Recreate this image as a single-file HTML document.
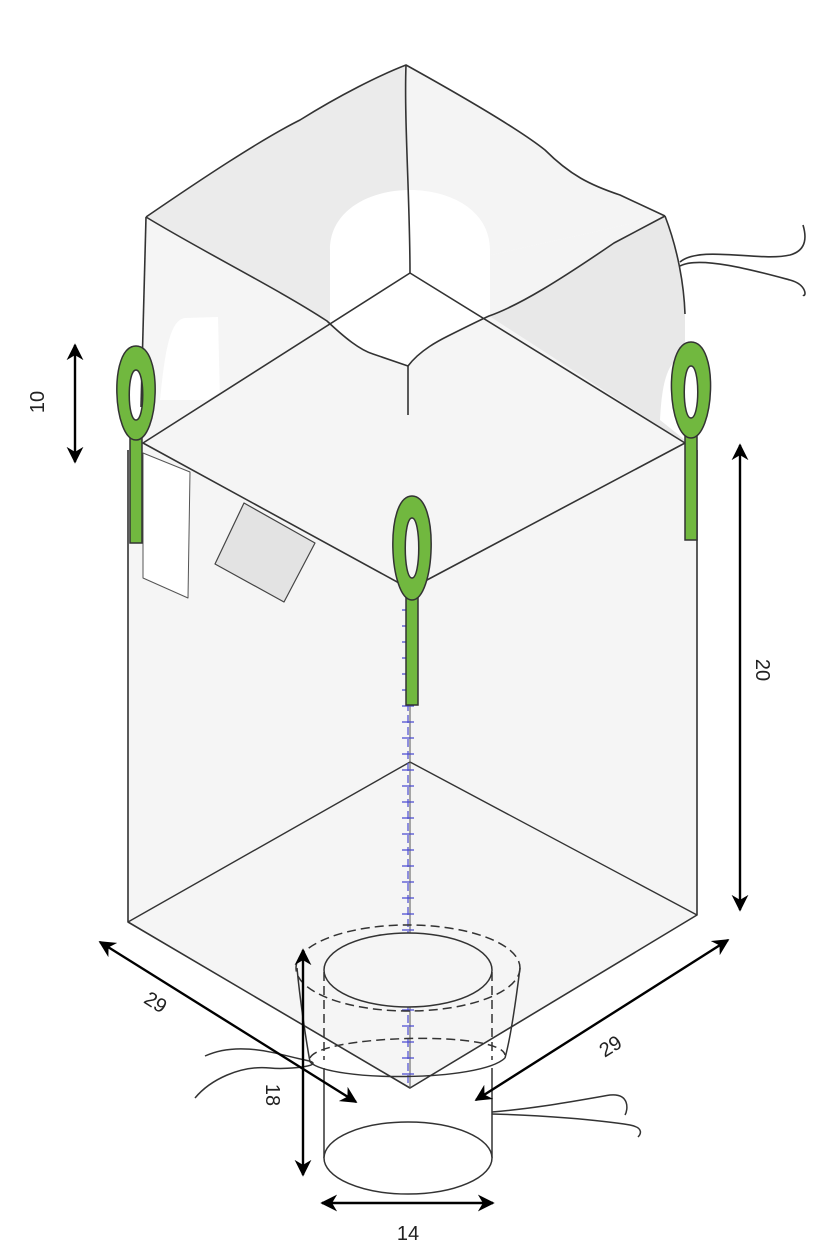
<!DOCTYPE html>
<html><head><meta charset="utf-8"><style>
html,body{margin:0;padding:0;background:#fff}
svg{display:block}
text{font-family:"Liberation Sans",sans-serif;font-size:20px;fill:#222}
</style></head><body>
<svg width="822" height="1253" viewBox="0 0 822 1253" xmlns="http://www.w3.org/2000/svg">
<defs>
<marker id="ah" viewBox="0 0 10 10" refX="9" refY="5" markerWidth="7" markerHeight="7" orient="auto-start-reverse">
<path d="M0,0 L10,5 L0,10 L3,5 z" fill="#000"/></marker>
</defs>
<g stroke="#333" stroke-width="1.6" fill="none" stroke-linejoin="round">
<path d="M146,217 C200,180 260,140 300,120 C340,95 380,75 406,65 L408,160 L410,273 L327,321 C280,290 200,250 146,217 Z" fill="#ebebeb" stroke="none"/>
<path d="M406,65 C460,95 520,130 545,150 C570,175 590,185 620,195 L665,216 L410,273 L408,160 Z" fill="#f4f4f4" stroke="none"/>
<path d="M410,273 L665,216 L614,243 C560,280 520,305 489,316 Z" fill="#f4f4f4" stroke="none"/>
<path d="M665,216 C678,250 684,285 685,314 L685,443 L489,316 C530,300 570,270 614,243 Z" fill="#e8e8e8" stroke="none"/>
<path d="M146,217 L141,407 L143,443 L327,321 C280,290 200,250 146,217 Z" fill="#f5f5f5" stroke="none"/>
<path d="M327,321 L410,273 L489,316 C470,325 440,340 408,366 L373,354 C360,350 345,338 327,321 Z" fill="#ebebeb" stroke="none"/>
<path d="M330,325 L330,250 C330,170 490,170 490,250 L490,318 C470,325 440,340 408,366 L373,354 C360,350 345,338 330,325 Z" fill="#fff" stroke="none"/>
<path d="M160,400 C165,350 170,320 185,318 L218,317 L220,400 Z" fill="#fff" stroke="none"/>
<path d="M660,420 C662,380 668,360 685,355 L685,440 Z" fill="#fff" stroke="none"/>
<path d="M143,443 L128,450 L128,922 L410,1088 L697,915 L697,450 L685,443 L410,589 Z" fill="#f5f5f5" stroke="none"/>
<path d="M128,450 L128,922 L410,1088 L697,915 L697,450"/>
<path d="M143,443 L327,321 C345,338 360,350 373,354 L408,366 C420,350 440,340 448,336 C470,325 480,320 489,316 L685,443 L410,589 Z" fill="#f5f5f5" stroke="none"/>
<path d="M143,443 L410,273 L685,443 L410,589 Z"/>
<path d="M128,922 L410,762 L697,915" stroke-width="1.4"/>
<path d="M410,589 L410,1088" stroke="#555" stroke-width="1"/>
<path d="M146,217 C200,180 260,140 300,120 C340,95 380,75 406,65 C460,95 520,130 545,150 C570,175 590,185 620,195 L665,216"/>
<path d="M406,65 C404,120 410,200 410,273"/>
<path d="M146,217 C200,250 280,290 327,321 C345,338 360,350 373,354 L408,366 C420,350 440,340 448,336 C470,325 480,320 489,316 C520,305 560,280 614,243 L665,216"/>
<path d="M408,366 L408,415"/>
<path d="M146,217 L141,407"/>
<path d="M665,216 C678,250 684,285 685,314"/>
<path d="M680,262 C700,245 760,262 790,255 C808,250 806,235 803,225"/>
<path d="M680,266 C700,255 760,272 790,280 C808,285 806,298 803,295"/>
<path d="M143,453 L190,472 L188,598 L143,578 Z" fill="#fff" stroke="#555" stroke-width="1"/>
<path d="M244,503 L315,543 L284,602 L215,564 Z" fill="#e3e3e3" stroke="#444" stroke-width="1.2"/>
</g>
<g stroke="#4a4ad0" stroke-width="1.2">
<line x1="408" y1="595" x2="408" y2="1085" stroke-dasharray="8,4"/>
<path d="M402,610h12M402,626h12M402,642h12M402,658h12M402,674h12M402,690h12M402,706h12M402,722h12M402,738h12M402,754h12M402,770h12M402,786h12M402,802h12M402,818h12M402,834h12M402,850h12M402,866h12M402,882h12M402,898h12M402,914h12M402,930h12M402,946h12M402,962h12M402,978h12M402,994h12M402,1010h12M402,1026h12M402,1042h12M402,1058h12M402,1074h12"/>
</g>
<g fill="#71b83f" stroke="#333" stroke-width="1.5">
<rect x="130" y="430" width="12" height="113"/>
<path d="M136,346 C108,346 113,440 136,440 C159,440 164,346 136,346 Z M136,370 C127,370 127,420 136,420 C145,420 145,370 136,370 Z" fill-rule="evenodd"/>
<rect x="685" y="432" width="12" height="108"/>
<path d="M691,342 C662,342 668,438 691,438 C714,438 720,342 691,342 Z M691,366 C682,366 682,418 691,418 C700,418 700,366 691,366 Z" fill-rule="evenodd"/>
<rect x="406" y="590" width="12" height="115"/>
<path d="M412,496 C384,496 389,600 412,600 C435,600 440,496 412,496 Z M412,518 C403,518 403,578 412,578 C421,578 421,518 412,518 Z" fill-rule="evenodd"/>
</g>
<g stroke="#333" stroke-width="1.5" fill="none">
<path d="M297,968 C300,1000 306,1040 310,1062" />
<path d="M520,968 C516,1000 510,1040 505,1058" />
<ellipse cx="408" cy="968" rx="112" ry="43" stroke-dasharray="9,5"/>
<ellipse cx="408" cy="970" rx="84" ry="37" fill="#f5f5f5"/>
<line x1="324" y1="972" x2="324" y2="1060" stroke-dasharray="9,5"/>
<line x1="492" y1="972" x2="492" y2="1060" stroke-dasharray="9,5"/>
<path d="M310,1058 C320,1035 500,1030 505,1055" stroke-dasharray="9,5"/>
<path d="M310,1062 C330,1082 480,1082 505,1058"/>
<path d="M324,1068 L324,1158 M492,1068 L492,1158"/>
<ellipse cx="408" cy="1158" rx="84" ry="36" fill="#fff"/>
<path d="M205,1056 C240,1040 280,1055 305,1060 C330,1065 290,1070 270,1068 C240,1065 210,1080 195,1098"/>
<path d="M492,1112 C540,1108 580,1100 610,1095 C630,1093 628,1110 625,1115"/>
<path d="M492,1114 C540,1115 600,1120 630,1125 C645,1128 640,1135 638,1137"/>
</g>
<g stroke="#000" stroke-width="2.4" fill="none">
<line x1="322" y1="1203" x2="493" y2="1203" marker-start="url(#ah)" marker-end="url(#ah)"/>
<line x1="303" y1="950" x2="303" y2="1175" marker-start="url(#ah)" marker-end="url(#ah)"/>
<line x1="100" y1="942" x2="356" y2="1102" marker-start="url(#ah)" marker-end="url(#ah)"/>
<line x1="728" y1="940" x2="476" y2="1100" marker-start="url(#ah)" marker-end="url(#ah)"/>
<line x1="740" y1="445" x2="740" y2="910" marker-start="url(#ah)" marker-end="url(#ah)"/>
<line x1="75" y1="345" x2="75" y2="462" marker-start="url(#ah)" marker-end="url(#ah)"/>
</g>
<text x="408" y="1240" text-anchor="middle">14</text>
<text transform="translate(266,1095) rotate(90)" text-anchor="middle">18</text>
<text transform="translate(152,1008) rotate(32)" text-anchor="middle">29</text>
<text transform="translate(614,1052) rotate(-32)" text-anchor="middle">29</text>
<text transform="translate(756,670) rotate(90)" text-anchor="middle">20</text>
<text transform="translate(44,402) rotate(-90)" text-anchor="middle">10</text>
</svg>
</body></html>
